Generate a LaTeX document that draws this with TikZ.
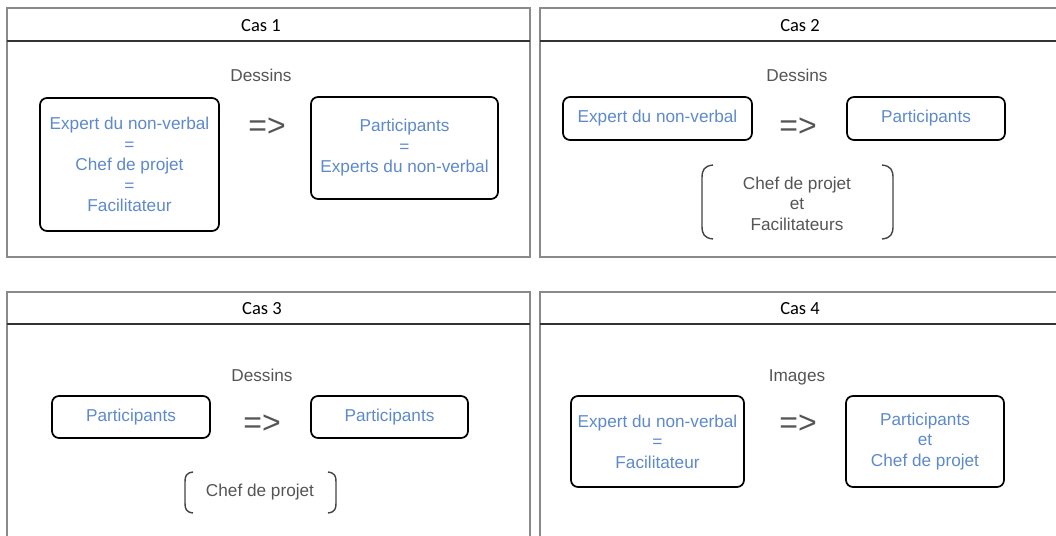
\documentclass[tikz,border=0pt]{standalone}
\usepackage{fontspec}
\setmainfont{Liberation Sans}
\newfontfamily\headfont{Carlito}
\definecolor{txtblue}{HTML}{5E8ACB}
\definecolor{txtgray}{HTML}{555555}
\definecolor{panelgray}{HTML}{8A8A8A}
\definecolor{headline}{HTML}{333333}
\definecolor{brgray}{HTML}{444444}
\tikzset{
  panel/.style={draw=panelgray, line width=1.5pt},
  headsep/.style={draw=headline, line width=1.6pt},
  headtxt/.style={font=\headfont\fontsize{18.5}{20}\selectfont, text=black},
  catxt/.style={font=\fontsize{17.2}{20}\selectfont, text=txtgray, text height=12.5pt, text depth=3.5pt},
  bluebox/.style={draw=black, line width=1.7pt, rounded corners=7pt, inner sep=0pt,
     align=center, text=txtblue, font=\fontsize{17.2}{20.5}\selectfont},
  implies/.style={font=\fontsize{32}{32}\selectfont, text=txtgray},
  graytxt/.style={align=center, text=txtgray, font=\fontsize{17.2}{20.5}\selectfont},
  bracket/.style={draw=brgray, line width=1.4pt}
}
\begin{document}
\begin{tikzpicture}[x=1pt,y=-1pt]
\useasboundingbox (0,0) rectangle (1056,535);
\clip (0,0) rectangle (1056,535);
\fill[white] (0,0) rectangle (1056,535);

% ---------- Cas 1 ----------
\draw[panel] (7,8) rectangle (530,257);
\draw[headsep] (7,41) -- (530,41);
\node[headtxt] (h1) at (261,26) {Cas 1};
\node[catxt] (c1) at (261,77) {Dessins};
\node[bluebox, minimum width=179pt, minimum height=133pt] (a1) at (129.5,164.5)
  {Expert du non-verbal\\=\\Chef de projet\\=\\Facilitateur};
\node[implies] (i1) at (267,127) {=>};
\node[bluebox, minimum width=187pt, minimum height=102pt] (b1) at (404.5,148)
  {Participants\\=\\Experts du non-verbal};

% ---------- Cas 2 ----------
\draw[panel] (540,8) rectangle (1070,257);
\draw[headsep] (540,41) -- (1070,41);
\node[headtxt] (h2) at (800,26) {Cas 2};
\node[catxt] (c2) at (797,77) {Dessins};
\node[bluebox, minimum width=189pt, minimum height=43pt] (a2) at (657.5,118.5)
  {\raisebox{-2pt}{Expert du non-verbal}};
\node[implies] (i2) at (798,127) {=>};
\node[bluebox, minimum width=158pt, minimum height=43pt] (b2) at (926,118.5)
  {\raisebox{-2pt}{Participants}};
\node[graytxt] (g2) at (797,203.5) {Chef de projet\\et\\Facilitateurs};
\draw[bracket] (713,165) .. controls (704,166) and (702,170) .. (702,178)
  -- (702,226) .. controls (702,234) and (704,238) .. (713,239);
\draw[bracket] (882,165) .. controls (891,166) and (893,170) .. (893,178)
  -- (893,226) .. controls (893,234) and (891,238) .. (882,239);

% ---------- Cas 3 ----------
\draw[panel] (7,292) rectangle (530,545);
\draw[headsep] (7,324) -- (530,324);
\node[headtxt] (h3) at (262,309) {Cas 3};
\node[catxt] (c3) at (262,377) {Dessins};
\node[bluebox, minimum width=158pt, minimum height=42pt] (a3) at (131,417)
  {\raisebox{-1pt}{Participants}};
\node[implies] (i3) at (262,424) {=>};
\node[bluebox, minimum width=157pt, minimum height=42pt] (b3) at (389.5,417)
  {\raisebox{1.5pt}{Participants}};
\node[graytxt] (g3) at (260,492) {Chef de projet};
\draw[bracket] (193,472) .. controls (186,473) and (185,476) .. (185,482)
  -- (185,503) .. controls (185,509) and (186,512) .. (193,513);
\draw[bracket] (328,472) .. controls (335,473) and (336,476) .. (336,482)
  -- (336,503) .. controls (336,509) and (335,512) .. (328,513);

% ---------- Cas 4 ----------
\draw[panel] (540,292) rectangle (1070,545);
\draw[headsep] (540,324) -- (1070,324);
\node[headtxt] (h4) at (800,309) {Cas 4};
\node[catxt] (c4) at (797,377) {Images};
\node[bluebox, minimum width=173pt, minimum height=91pt] (a4) at (657.5,441.5)
  {Expert du non-verbal\\=\\Facilitateur};
\node[implies] (i4) at (798,424) {=>};
\node[bluebox, minimum width=158pt, minimum height=91pt] (b4) at (925,441.5)
  {Participants\\et\\Chef de projet};
\end{tikzpicture}
\end{document}
